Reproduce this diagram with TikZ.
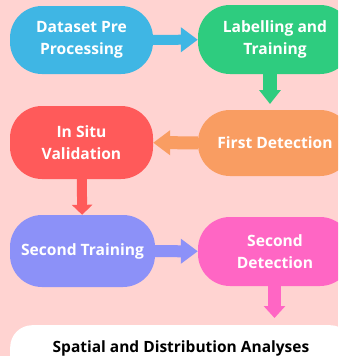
\documentclass[tikz,border=0pt]{standalone}
\usepackage{fontspec}
\setmainfont{Open Sans}
\usetikzlibrary{arrows.meta}
\definecolor{bgpink}{HTML}{FFD3D1}
\definecolor{cblue}{HTML}{3FB6E4}
\definecolor{cgreen}{HTML}{2ECC7F}
\definecolor{cred}{HTML}{FF5A5A}
\definecolor{corange}{HTML}{F99D62}
\definecolor{cpurple}{HTML}{8C91F8}
\definecolor{cmagenta}{HTML}{FF66C4}
\tikzset{
  stage/.style={rectangle, rounded corners=32pt, inner sep=0pt, align=center,
    text=white, font=\bfseries\fontsize{15.6}{21.5}\selectfont},
  flow/.style={line width=10pt, line cap=butt,
    -{Triangle[width=24pt,length=17pt]}},
}
\begin{document}
\begin{tikzpicture}[x=1pt,y=-1pt]
  \fill[bgpink] (0,0) rectangle (338,356);
  \useasboundingbox (0,0) rectangle (338,356);
  \clip (0,0) rectangle (338,356);

  % process stages
  \node[stage, fill=cblue, minimum width=143pt, minimum height=68pt] (b1) at (81.5,40) {Dataset Pre\\Processing};
  \node[stage, fill=cgreen, minimum width=154pt, minimum height=69pt] (b2) at (275,39.5) {Labelling and\\Training};
  \node[stage, fill=cred, minimum width=143pt, minimum height=73pt] (b3) at (81.5,142.5) {In Situ\\Validation};
  \node[stage, fill=corange, minimum width=154pt, minimum height=66pt] (b4) at (275,143) {First Detection};
  \node[stage, fill=cpurple, minimum width=145pt, minimum height=72pt] (b5) at (82.5,251) {Second Training};
  \node[stage, fill=cmagenta, minimum width=154pt, minimum height=69pt] (b6) at (275,251.5) {Second\\Detection};

  % final stage
  \node[rectangle, rounded corners=22pt, fill=white, minimum width=342pt, minimum height=64pt,
    anchor=north west, inner sep=0pt] (b7) at (10,325) {};
  \node[font=\bfseries\fontsize{15.5}{18}\selectfont, text=black, anchor=base] (t7) at (181,352)
    {Spatial and Distribution Analyses};

  % arrow end points
  \coordinate (a2s) at ([xshift=-5pt]b2.south);
  \coordinate (a2e) at (270,104);
  \coordinate (a6s) at ([xshift=-0.5pt]b6.south);
  \coordinate (a6e) at (274.5,318);

  % connectors
  \draw[flow, cblue] (b1) -- (b2);
  \draw[flow, cgreen, line width=14pt, -{Triangle[width=21pt,length=14pt]}] (a2s) -- (a2e);
  \draw[flow, corange, line width=13pt] (b4) -- (b3);
  \draw[flow, cred, line width=10pt, -{Triangle[width=20pt,length=10pt]}] (b3) -- (b5);
  \draw[flow, cpurple, line width=12pt] (b5) -- (b6);
  \draw[flow, cmagenta, line width=13pt, -{Triangle[width=21pt,length=12pt]}] (a6s) -- (a6e);
\end{tikzpicture}
\end{document}
